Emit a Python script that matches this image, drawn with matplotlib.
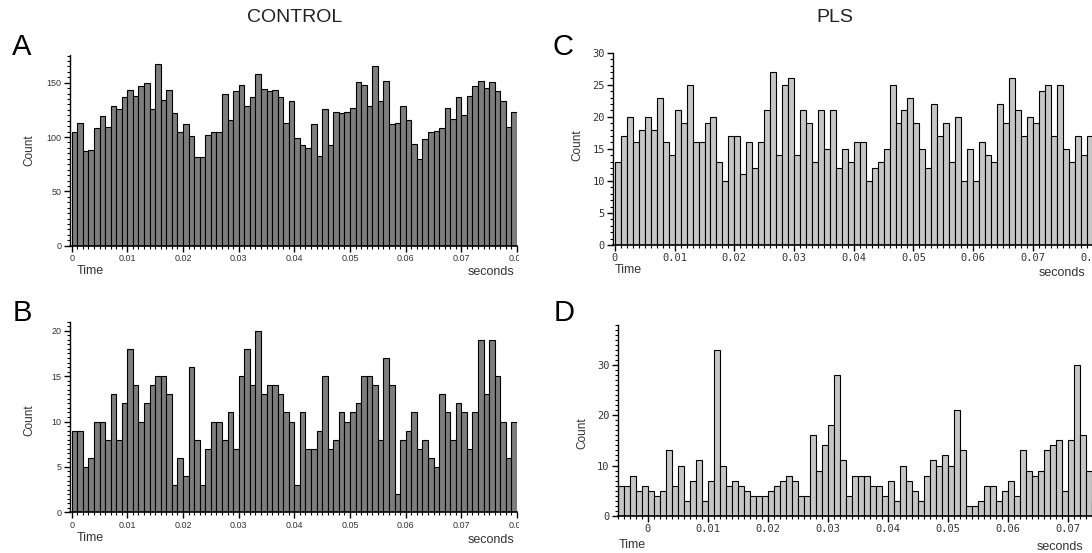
import numpy as np
import matplotlib
matplotlib.use("Agg")
import matplotlib.pyplot as plt
from matplotlib.ticker import MultipleLocator, FixedLocator, FuncFormatter
from matplotlib.transforms import Bbox, TransformedBbox

# bin counts, 1 ms bins
control_a = [105, 113, 87, 88, 108, 119, 109, 129, 126, 137, 143, 138, 147, 150, 126, 167,
             134, 143, 122, 105, 112, 101, 82, 82, 102, 105, 105, 140, 116, 142, 148, 129,
             137, 158, 144, 142, 143, 137, 113, 133, 99, 93, 90, 112, 83, 126, 93, 123,
             122, 123, 127, 151, 148, 129, 165, 133, 152, 112, 113, 129, 116, 94, 80, 98,
             105, 106, 108, 127, 117, 137, 120, 138, 147, 152, 145, 151, 142, 133, 109, 123]
control_b = [9, 9, 5, 6, 10, 10, 8, 13, 8, 12, 18, 14, 10, 12, 14, 15,
             15, 13, 3, 6, 4, 16, 8, 3, 7, 10, 10, 8, 11, 7, 15, 18,
             14, 20, 13, 14, 14, 13, 11, 10, 3, 11, 7, 7, 9, 15, 7, 8,
             11, 10, 11, 12, 15, 15, 14, 8, 17, 14, 2, 8, 9, 11, 7, 8,
             6, 5, 13, 11, 8, 12, 11, 7, 11, 19, 13, 19, 15, 10, 6, 10]
pls_c = [13, 17, 20, 16, 18, 20, 18, 23, 16, 14, 21, 19, 25, 16, 16, 19,
         20, 13, 10, 17, 17, 11, 16, 12, 16, 21, 27, 14, 25, 26, 14, 21,
         19, 13, 21, 15, 21, 12, 15, 13, 16, 16, 10, 12, 13, 15, 25, 19,
         21, 23, 19, 15, 12, 22, 17, 19, 13, 20, 10, 15, 10, 16, 14, 13,
         22, 19, 26, 21, 17, 20, 19, 24, 25, 17, 25, 15, 13, 17, 14, 17]
pls_d = [6, 6, 8, 5, 6, 5, 4, 5, 13, 6, 10, 3, 7, 11, 3, 7,
         33, 10, 6, 7, 6, 5, 4, 4, 4, 5, 6, 7, 8, 7, 4, 4,
         16, 9, 14, 18, 28, 11, 4, 8, 8, 8, 6, 6, 4, 7, 3, 10,
         7, 5, 3, 8, 11, 10, 12, 10, 21, 13, 2, 2, 3, 6, 6, 3,
         5, 7, 4, 13, 9, 8, 9, 13, 14, 15, 5, 15, 30, 16, 9, 3]
bin_w = 0.001
start_ctrl = 0.0
start_d = -0.005
xtick_vals = [0, 0.01, 0.02, 0.03, 0.04, 0.05, 0.06, 0.07, 0.08]

W, H = 1092, 553
fig = plt.figure(figsize=(W / 100, H / 100), dpi=100)


def add_ax(left, top, right, bottom):
    return fig.add_axes([left / W, 1 - bottom / H, (right - left) / W, (bottom - top) / H])


def px(x, y):
    return x / W, 1 - y / H


def fmt(v, pos):
    return "0" if abs(v) < 1e-9 else f"{v:.2f}"


def hist_panel(ax, counts, start, color, xlim, ylim, ymajor, yminor, tickfont, tsize):
    edges = start + np.arange(len(counts)) * bin_w
    ax.bar(edges, counts, width=bin_w, align="edge", color=color,
           edgecolor="black", linewidth=0.8)
    ax.set_xlim(*xlim)
    ax.set_ylim(*ylim)
    for s in ["top", "right"]:
        ax.spines[s].set_visible(False)
    ax.spines["left"].set_linewidth(1.0)
    ax.spines["bottom"].set_linewidth(1.2)
    ax.xaxis.set_major_locator(FixedLocator([v for v in xtick_vals if v <= xlim[1] + 1e-9]))
    ax.xaxis.set_major_formatter(FuncFormatter(fmt))
    ax.xaxis.set_minor_locator(MultipleLocator(bin_w))
    ax.yaxis.set_major_locator(MultipleLocator(ymajor))
    ax.yaxis.set_minor_locator(MultipleLocator(yminor))
    ax.tick_params(axis="both", which="major", direction="out", length=4, width=1,
                   labelsize=tsize, pad=2)
    ax.tick_params(axis="both", which="minor", direction="out", length=2.2, width=0.8)
    for lab in ax.get_xticklabels() + ax.get_yticklabels():
        lab.set_family(tickfont)
        lab.set_color("#333333")


sans = "Liberation Sans"
mono = "DejaVu Sans Mono"
dark = "#7d7d7d"
light = "#c6c6c6"

ax_a = add_ax(70, 55, 517, 245.7)
hist_panel(ax_a, control_a, start_ctrl, dark, (-0.0003, 0.08), (0, 175.5), 50, 5, sans, 6.5)
ax_b = add_ax(70, 321.7, 517, 512.3)
hist_panel(ax_b, control_b, start_ctrl, dark, (-0.0003, 0.08), (0, 21), 5, 0.5, sans, 6.5)
ax_c = add_ax(613.2, 52.7, 1092.5, 245)
hist_panel(ax_c, pls_c, start_ctrl, light, (-0.0003, 0.08), (0, 30), 5, 1, mono, 7.5)
ax_d = add_ax(617.7, 325, 1098.4, 515.7)
hist_panel(ax_d, pls_d, start_d, light, (-0.005, 0.075), (0, 38), 10, 1, mono, 7.5)

# the 0.08 labels of the left panels are cut at the axis end
for ax in (ax_a, ax_b):
    clip = TransformedBbox(Bbox.from_extents(0, 0, 519 / W, 1), fig.transFigure)
    for lab in ax.get_xticklabels():
        lab.set_clip_box(clip)
        lab.set_clip_on(True)

# headings and panel letters
fig.text(*px(295, 18), "CONTROL", fontsize=14, family=sans, ha="center", va="center", color="#222222")
fig.text(*px(835, 18), "PLS", fontsize=14, family=sans, ha="center", va="center", color="#222222")
for letter, x, y in [("A", 22, 47), ("B", 22, 313), ("C", 563, 47), ("D", 564, 313)]:
    fig.text(*px(x, y), letter, fontsize=21, family=sans, ha="center", va="center")

# axis captions
for x, y in [(29, 150), (29, 420), (577, 145), (582, 433)]:
    fig.text(*px(x, y), "Count", fontsize=8.5, family=sans, rotation=90, ha="center", va="center", color="#333333")
for x, y in [(90, 271), (90, 538), (628, 270), (632, 545)]:
    fig.text(*px(x, y), "Time", fontsize=9, family=sans, ha="center", va="center", color="#333333")
for x, y in [(491, 272), (491, 540), (1062, 273), (1060, 547)]:
    fig.text(*px(x, y), "seconds", fontsize=9, family=sans, ha="center", va="center", color="#333333")

fig.savefig("out.png", dpi=100)
